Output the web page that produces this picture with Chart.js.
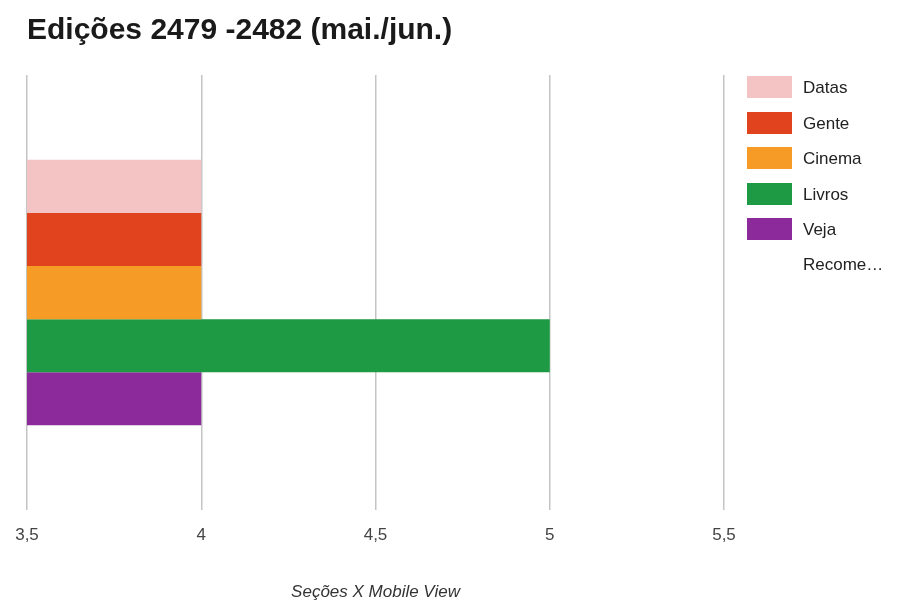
<!DOCTYPE html>
<html>
<head>
<meta charset="utf-8">
<script src="https://cdn.jsdelivr.net/npm/chart.js@4/dist/chart.umd.min.js"></script>
<style>
  body { margin: 0; background: #fff; }
  #wrap { position: relative; width: 909px; height: 603px; }
  #legenda { position: absolute; left: 747px; top: 76px; font-family: "Liberation Sans", Arial, sans-serif; font-size: 17px; color: #222; }
  .item { display: flex; align-items: flex-start; height: 35.5px; }
  .caixa { width: 45px; height: 22px; margin-right: 11px; flex: none; }
  .texto { width: 80px; line-height: 35px; margin-top: -6px; }
</style>
</head>
<body>
<div id="wrap">
  <canvas id="grafico" width="909" height="603"></canvas>
  <div id="legenda"></div>
</div>
<script>
// dados do gráfico
var categorias = ['Seções'];
var secoes = ['Datas', 'Gente', 'Cinema', 'Livros', 'Veja Recome…'];
var valores = [4, 4, 4, 5, 4];
var cores = ['#f4c3c3', '#e2431f', '#f59b26', '#1d9a43', '#8c2a9b'];
var ticksX = [3.5, 4, 4.5, 5, 5.5];

var datasets = secoes.map(function (nome, i) {
  return {
    label: nome,
    data: [valores[i]],
    backgroundColor: cores[i],
    borderWidth: 0,
    categoryPercentage: 0.61,
    barPercentage: 1
  };
});

var ctx = document.getElementById('grafico').getContext('2d');
var grafico = new Chart(ctx, {
  type: 'bar',
  data: { labels: categorias, datasets: datasets },
  options: {
    indexAxis: 'y',
    responsive: false,
    animation: false,
    layout: { padding: { left: 27, right: 185, top: 0, bottom: 0 } },
    plugins: {
      legend: { display: false },
      tooltip: { enabled: false },
      title: {
        display: true,
        text: 'Edições 2479 -2482 (mai./jun.)',
        align: 'start',
        color: '#1a1a1a',
        font: { family: '"Liberation Sans", Arial, sans-serif', size: 30, weight: 'bold' },
        padding: { top: 13, bottom: 26 }
      }
    },
    scales: {
      y: { display: false },
      x: {
        min: 3.5,
        max: 5.5,
        afterBuildTicks: function (axis) {
          axis.ticks = ticksX.map(function (v) { return { value: v }; });
        },
        grid: { color: '#c4c4c4', lineWidth: 1.5, drawTicks: false },
        border: { display: false },
        ticks: {
          padding: 15,
          color: '#444',
          font: { family: '"Liberation Sans", Arial, sans-serif', size: 17 },
          callback: function (v) { return String(v).replace('.', ','); }
        },
        title: {
          display: true,
          text: 'Seções X Mobile View',
          color: '#333',
          font: { family: '"Liberation Sans", Arial, sans-serif', size: 17, style: 'italic' },
          padding: { top: 21, bottom: 1 }
        }
      }
    }
  }
});

// legenda à direita
var legenda = document.getElementById('legenda');
secoes.forEach(function (nome, i) {
  var item = document.createElement('div');
  item.className = 'item';
  item.innerHTML = '<div class="caixa" style="background:' + cores[i] + '"></div><div class="texto">' + nome + '</div>';
  legenda.appendChild(item);
});
</script>
</body>
</html>
